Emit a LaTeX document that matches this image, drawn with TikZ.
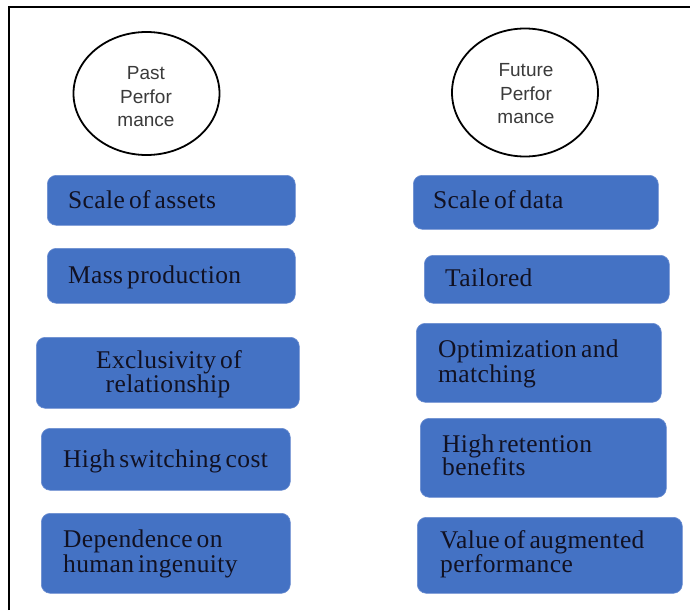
\documentclass[tikz,border=0pt]{standalone}
\usepackage{fontspec}
\setmainfont{Liberation Serif}
\newfontfamily\labelsans{Liberation Sans}
\newfontfamily\boxserif[LetterSpace=1.5,WordSpace=0.6]{Liberation Serif}
\usetikzlibrary{shapes.geometric}
\definecolor{boxblue}{HTML}{4472C4}
\definecolor{boxedge}{HTML}{6A8CD0}
\definecolor{ovaltext}{HTML}{3A3A3A}
\definecolor{boxtext}{HTML}{111122}
\tikzset{
  oval/.style={ellipse, draw=black, line width=1.8pt, inner sep=0pt},
  ovallabel/.style={font=\labelsans\fontsize{19}{23.5}\selectfont, text=ovaltext, align=center, inner sep=0pt},
  card/.style={rectangle, rounded corners=9pt, fill=boxblue, draw=boxedge, line width=0.6pt, inner sep=0pt, anchor=north west},
  cardtext/.style={font=\boxserif\fontsize{25.5}{25}\selectfont, text=boxtext, inner sep=0pt, anchor=base west},
  frameline/.style={line width=2pt, black}
}
\begin{document}
\begin{tikzpicture}[x=1pt, y=-1pt]
\useasboundingbox (0,0) rectangle (690,610);
% open frame: left and top edges
\coordinate (fbl) at (8.5,610);
\coordinate (ftl) at (8.5,7.5);
\coordinate (ftr) at (690,7.5);
\draw[frameline] (fbl) -- (ftl) -- (ftr);

% column headings
\node[oval, minimum width=146pt, minimum height=123pt] (past) at (146.5,93.5) {};
\node[ovallabel] (pastlbl) at (146,97) {Past\\Perfor\\mance};
\node[oval, minimum width=146pt, minimum height=128pt] (future) at (525,92.5) {};
\node[ovallabel] (futurelbl) at (526,94) {Future\\Perfor\\mance};

% left column
\node[card, minimum width=248pt, minimum height=50pt] (l1) at (47,175) {};
\node[cardtext] (l1t) at (68,208) {Scale of assets};
\node[card, minimum width=248pt, minimum height=55pt] (l2) at (47,248) {};
\node[cardtext] (l2t) at (68,283) {Mass production};
\node[card, minimum width=263pt, minimum height=71pt] (l3) at (36,337) {};
\node[cardtext, anchor=base] (l3t) at (169,368) {Exclusivity of};
\node[cardtext, anchor=base] (l3u) at (168,392) {relationship};
\node[card, minimum width=249pt, minimum height=62pt] (l4) at (41,428) {};
\node[cardtext] (l4t) at (63,467) {High switching cost};
\node[card, minimum width=249pt, minimum height=80pt] (l5) at (41,513) {};
\node[cardtext] (l5t) at (63,547) {Dependence on};
\node[cardtext] (l5u) at (63,572) {human ingenuity};

% right column
\node[card, minimum width=245pt, minimum height=54pt] (r1) at (413,175) {};
\node[cardtext] (r1t) at (433,208) {Scale of data};
\node[card, minimum width=245pt, minimum height=48pt] (r2) at (424,255) {};
\node[cardtext] (r2t) at (445,286) {Tailored};
\node[card, minimum width=245pt, minimum height=79pt] (r3) at (416,323) {};
\node[cardtext] (r3t) at (438,357) {Optimization and};
\node[cardtext] (r3u) at (438,382) {matching};
\node[card, minimum width=246pt, minimum height=79pt] (r4) at (420,418) {};
\node[cardtext] (r4t) at (442,452) {High retention};
\node[cardtext] (r4u) at (442,475) {benefits};
\node[card, minimum width=265pt, minimum height=76pt] (r5) at (417,517) {};
\node[cardtext] (r5t) at (440,548) {Value of augmented};
\node[cardtext] (r5u) at (440,572) {performance};
\end{tikzpicture}
\end{document}
